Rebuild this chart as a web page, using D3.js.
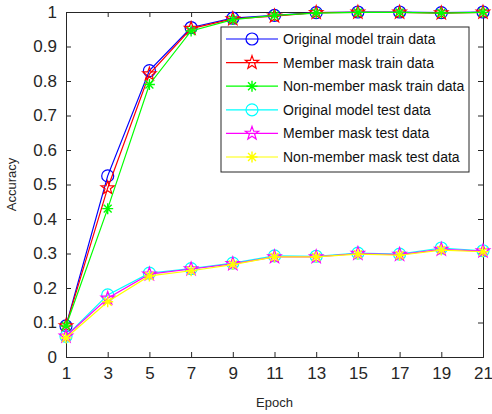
<!DOCTYPE html>
<html>
<head>
<meta charset="utf-8">
<script src="https://cdn.jsdelivr.net/npm/d3@7"></script>
<style>
  body { margin: 0; background: #fff; }
  svg { font-family: "Liberation Sans", Arial, sans-serif; }
</style>
</head>
<body>
<div class="chart"></div>
<script>
const epochs = [1, 3, 5, 7, 9, 11, 13, 15, 17, 19, 21]
const yTicks = [0, 0.1, 0.2, 0.3, 0.4, 0.5, 0.6, 0.7, 0.8, 0.9, 1]

const origTrain = [0.09, 0.525, 0.83, 0.955, 0.982, 0.99, 0.998, 1.0, 1.0, 0.998, 1.0]
const memberTrain = [0.09, 0.49, 0.82, 0.952, 0.98, 0.988, 0.998, 0.999, 0.999, 0.997, 0.999]
const nonMemberTrain = [0.09, 0.43, 0.79, 0.945, 0.978, 0.99, 0.997, 0.999, 0.999, 0.997, 0.999]
const origTest = [0.06, 0.18, 0.243, 0.256, 0.272, 0.293, 0.292, 0.301, 0.298, 0.316, 0.308]
const memberTest = [0.06, 0.17, 0.24, 0.255, 0.27, 0.29, 0.29, 0.30, 0.297, 0.312, 0.307]
const nonMemberTest = [0.055, 0.16, 0.235, 0.25, 0.268, 0.29, 0.29, 0.298, 0.295, 0.31, 0.305]

const seriesNames = [
  'Original model train data', 'Member mask train data', 'Non-member mask train data',
  'Original model test data', 'Member mask test data', 'Non-member mask test data'
]
const seriesValues = [origTrain, memberTrain, nonMemberTrain, origTest, memberTest, nonMemberTest]
const seriesColors = ['#0000ff', '#ff0000', '#00ff00', '#00ffff', '#ff00ff', '#ffff00']
const seriesMarkers = ['circle', 'star', 'asterisk', 'circle', 'star', 'asterisk']

const W = 492, H = 414
const margin = {top: 12, right: 9, bottom: 57, left: 66}
const width = W - margin.left - margin.right
const height = H - margin.top - margin.bottom

const svg = d3.select('.chart').append('svg')
    .attr('width', W)
    .attr('height', H)
  .append('g')
    .attr('transform', `translate(${margin.left},${margin.top})`)

const x = d3.scaleLinear().domain([1, 21]).range([0, width])
const y = d3.scaleLinear().domain([0, 1]).range([height, 0])

// axes, ticks inward like the original
const tickLen = 5
const axisCol = '#262626'

svg.append('g')
    .attr('transform', `translate(0,${height})`)
    .call(d3.axisBottom(x).tickValues(epochs).tickSize(-tickLen).tickPadding(10).tickFormat(d3.format('d')))
svg.append('g')
    .call(d3.axisTop(x).tickValues(epochs).tickSize(-tickLen).tickFormat(''))
svg.append('g')
    .call(d3.axisLeft(y).tickValues(yTicks).tickSize(-tickLen).tickPadding(9).tickFormat((d) => d === 0 || d === 1 ? d3.format('d')(d) : d3.format('.1f')(d)))
svg.append('g')
    .attr('transform', `translate(${width},0)`)
    .call(d3.axisRight(y).tickValues(yTicks).tickSize(-tickLen).tickFormat(''))

svg.selectAll('.domain').attr('stroke', axisCol)
svg.selectAll('.tick line').attr('stroke', axisCol)
svg.selectAll('.tick text').attr('fill', axisCol).style('font-size', '17px')

svg.append('text')
    .attr('x', width / 2)
    .attr('y', height + 50)
    .attr('text-anchor', 'middle')
    .attr('fill', axisCol)
    .style('font-size', '13px')
    .text('Epoch')

svg.append('text')
    .attr('transform', `translate(${-50},${height / 2}) rotate(-90)`)
    .attr('text-anchor', 'middle')
    .attr('fill', axisCol)
    .style('font-size', '13px')
    .text('Accuracy')

// markers
const starPath = (r) => {
  const pts = []
  for (let i = 0; i < 10; i++) {
    const a = -Math.PI / 2 + i * Math.PI / 5
    const rr = i % 2 === 0 ? r : r * 0.4
    pts.push([rr * Math.cos(a), rr * Math.sin(a)])
  }
  return 'M' + pts.map((p) => p.join(',')).join('L') + 'Z'
}
const asteriskPath = (r) => {
  const d = r * 0.72
  return `M${-r},0L${r},0M0,${-r}L0,${r}M${-d},${-d}L${d},${d}M${-d},${d}L${d},${-d}`
}
const drawMarker = (g, type, color) => {
  if (type === 'circle') {
    g.append('circle').attr('r', 6).attr('fill', 'none').attr('stroke', color).attr('stroke-width', 1.2)
  } else if (type === 'star') {
    g.append('path').attr('d', starPath(7)).attr('fill', 'none').attr('stroke', color).attr('stroke-width', 1.2)
  } else {
    g.append('path').attr('d', asteriskPath(5.5)).attr('fill', 'none').attr('stroke', color).attr('stroke-width', 1.4)
  }
}

const line = d3.line()
  .x((d, i) => x(epochs[i]))
  .y((d) => y(d))

seriesValues.forEach((vals, s) => {
  const g = svg.append('g')
  g.append('path')
      .datum(vals)
      .attr('fill', 'none')
      .attr('stroke', seriesColors[s])
      .attr('stroke-width', 1.2)
      .attr('d', line)
  vals.forEach((v, i) => {
    const m = g.append('g').attr('transform', `translate(${x(epochs[i])},${y(v)})`)
    drawMarker(m, seriesMarkers[s], seriesColors[s])
  })
})

// legend
const legend = svg.append('g')
    .attr('transform', `translate(${221 - margin.left},${27 - margin.top})`)
legend.append('rect')
    .attr('width', 248)
    .attr('height', 145)
    .attr('fill', '#fff')
    .attr('stroke', axisCol)
    .attr('stroke-width', 1)

seriesNames.forEach((name, s) => {
  const row = legend.append('g').attr('transform', `translate(0,${12 + s * 23.6})`)
  row.append('line')
      .attr('x1', 5).attr('x2', 57)
      .attr('stroke', seriesColors[s])
      .attr('stroke-width', 1.2)
  const m = row.append('g').attr('transform', 'translate(31,0)')
  drawMarker(m, seriesMarkers[s], seriesColors[s])
  row.append('text')
      .attr('x', 62)
      .attr('dy', '0.35em')
      .attr('fill', '#111')
      .style('font-size', '14px')
      .text(name)
})
</script>
</body>
</html>
